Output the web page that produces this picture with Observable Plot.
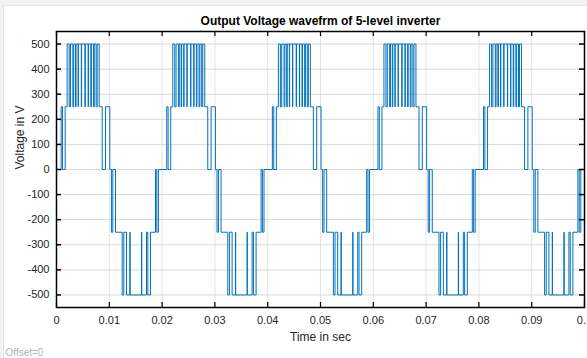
<!DOCTYPE html>
<html>
<head>
<meta charset="utf-8">
<script src="https://cdn.jsdelivr.net/npm/d3@7"></script>
<script src="https://cdn.jsdelivr.net/npm/@observablehq/plot@0.6"></script>
<style>
  html, body { margin: 0; padding: 0; background: #f3f3f3; }
  #wrap { position: relative; width: 587px; height: 358px; overflow: hidden; }
  #panel { position: absolute; left: 3px; top: 5px; width: 620px; height: 400px;
           background: #ffffff; border: 1px solid #e2e2e2; }
  #chart { position: absolute; left: 0; top: 0; }
</style>
</head>
<body>
<div id="wrap"><div id="panel"></div><div id="chart"></div></div>
<script>
// Fundamental period starts (50 Hz output, 0.1 s window)
const cycleStarts = [0, 0.02, 0.04, 0.06, 0.08];

// Switching instants within one 20 ms period (s) and the output level after each (V)
const switchTimes = [
  0.00088, 0.00114, 0.00164, 0.00202,
  0.00240, 0.00265, 0.00310, 0.00325, 0.00360, 0.00370, 0.00410, 0.00415,
  0.00470, 0.00475, 0.00540, 0.00545, 0.00600, 0.00605, 0.00650, 0.00660,
  0.00700, 0.00715, 0.00750, 0.00770,
  0.00808, 0.00865, 0.00928, 0.01010,
  0.01040, 0.01067, 0.01117, 0.01244, 0.01275, 0.01326,
  0.01389, 0.01394, 0.01610, 0.01615, 0.01705, 0.01730,
  0.01780, 0.01875, 0.01900, 0.01930
];
const switchLevels = [
  250, 0, 250, 500,
  250, 500, 250, 500, 250, 500, 250, 500,
  250, 500, 250, 500, 250, 500, 250, 500,
  250, 500, 250, 500,
  250, 0, 250, 0,
  -250, 0, -250, -500, -250, -500,
  -250, -500, -250, -500, -250, -500,
  -250, 0, -250, 0
];

const xTicks = [0, 0.01, 0.02, 0.03, 0.04, 0.05, 0.06, 0.07, 0.08, 0.09, 0.1];
const xTickLabels = ["0", "0.01", "0.02", "0.03", "0.04", "0.05", "0.06", "0.07", "0.08", "0.09", "0.1"];
const yTicks = [-500, -400, -300, -200, -100, 0, 100, 200, 300, 400, 500];
const yTickLabels = ["-500", "-400", "-300", "-200", "-100", "0", "100", "200", "300", "400", "500"];

const titleText = "Output Voltage wavefrm of 5-level inverter";
const xLabel = "Time in sec";
const yLabel = "Voltage in V";
const footText = "Offset=0";

// Assemble the stepped waveform from the switching table
const points = [{t: 0, v: 0}];
for (const start of cycleStarts) {
  switchTimes.forEach((dt, i) => points.push({t: start + dt, v: switchLevels[i]}));
}
points.push({t: 0.1, v: points[points.length - 1].v});

const W = 587, H = 358;
const mL = 56, mR = 3, mT = 31, mB = 51;
const frameW = W - mL - mR, frameH = H - mT - mB;
const font = "'Liberation Sans', Arial, Helvetica, sans-serif";
const ink = "#262626";
const blue = "#0072BD";

const chart = Plot.plot({
  width: W,
  height: H,
  marginLeft: mL,
  marginRight: mR,
  marginTop: mT,
  marginBottom: mB,
  style: {fontFamily: font, fontSize: "11px", background: "transparent", overflow: "visible"},
  x: {domain: [0, 0.1], axis: null},
  y: {domain: [-550, 550], axis: null},
  marks: [
    // grid
    Plot.ruleX(xTicks, {x: d => d, stroke: "#e4e4e4", strokeWidth: 1}),
    Plot.ruleY(yTicks, {y: d => d, stroke: "#d9d9d9", strokeWidth: 1}),
    // waveform
    Plot.line(points, {x: "t", y: "v", curve: "step-after", stroke: blue, strokeWidth: 1}),
    // inward ticks on all four sides
    Plot.ruleX(xTicks, {x: d => d, stroke: "black", strokeWidth: 1.2, insetTop: frameH - 5}),
    Plot.ruleX(xTicks, {x: d => d, stroke: "black", strokeWidth: 1.2, insetBottom: frameH - 5}),
    Plot.ruleY(yTicks, {y: d => d, stroke: "black", strokeWidth: 1.5, insetRight: frameW - 5}),
    Plot.ruleY(yTicks, {y: d => d, stroke: "black", strokeWidth: 1.5, insetLeft: frameW - 5}),
    Plot.frame({stroke: "black", strokeWidth: 1.5}),
    // tick labels
    Plot.text(xTicks, {x: d => d, text: (d, i) => xTickLabels[i], frameAnchor: "bottom", dy: 13,
      lineAnchor: "middle", fill: ink, fontSize: 11}),
    Plot.text(yTicks, {y: d => d, text: (d, i) => yTickLabels[i], frameAnchor: "left", dx: -7,
      textAnchor: "end", lineAnchor: "middle", fill: ink, fontSize: 11}),
    // titles
    Plot.text([titleText], {text: d => d, frameAnchor: "top", dy: -10, lineAnchor: "middle",
      fontWeight: "bold", fontSize: 12, fill: "#000"}),
    Plot.text([xLabel], {text: d => d, frameAnchor: "bottom", dy: 30, lineAnchor: "middle",
      fontSize: 12, fill: ink}),
    Plot.text([yLabel], {text: d => d, frameAnchor: "left", dx: -36, rotate: -90,
      lineAnchor: "middle", fontSize: 12, fill: ink}),
    Plot.text([footText], {text: d => d, frameAnchor: "bottom-left", dx: -51, dy: 45,
      textAnchor: "start", lineAnchor: "middle", fontSize: 10, fill: "#b4b4b4"})
  ]
});

document.getElementById("chart").appendChild(chart);
</script>
</body>
</html>
